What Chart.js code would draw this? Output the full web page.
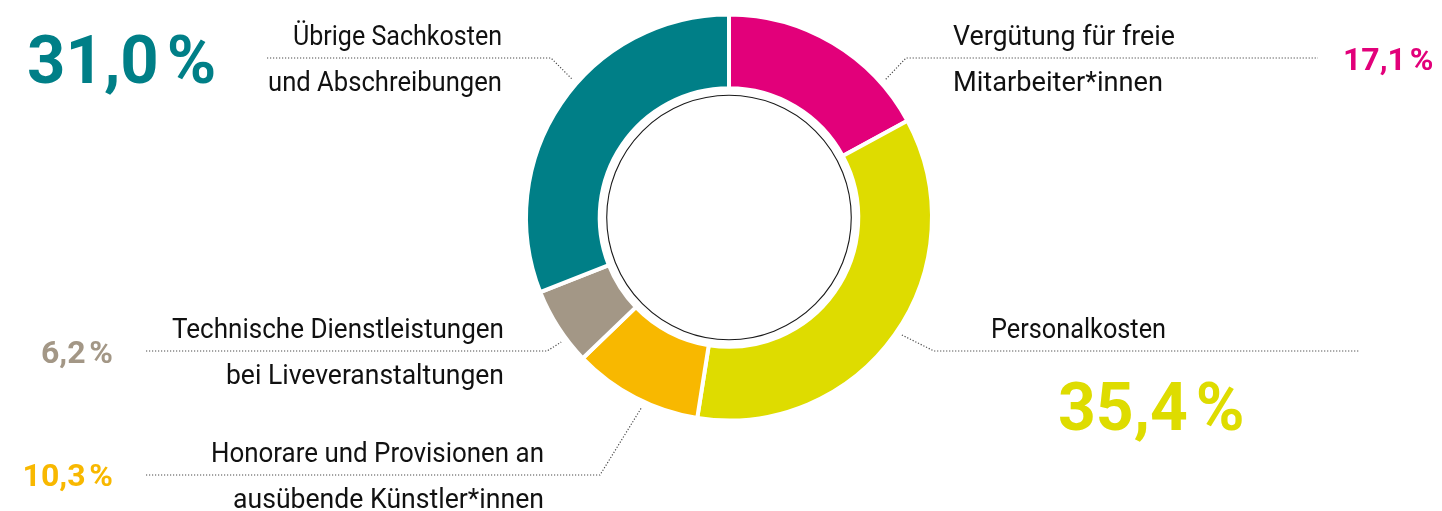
<!DOCTYPE html>
<html>
<head>
<meta charset="utf-8">
<script src="https://cdn.jsdelivr.net/npm/chart.js@4/dist/chart.umd.min.js"></script>
<style>
  html, body { margin: 0; padding: 0; background: #ffffff; }
  #wrap { width: 1442px; height: 511px; position: relative; }
</style>
</head>
<body>
<div id="wrap"><canvas id="c" width="1442" height="511"></canvas></div>
<script>
// ---- data ----
const categories = [
  'Vergütung für freie Mitarbeiter*innen',
  'Personalkosten',
  'Honorare und Provisionen an ausübende Künstler*innen',
  'Technische Dienstleistungen bei Liveveranstaltungen',
  'Übrige Sachkosten und Abschreibungen'
];
const values = [17.1, 35.4, 10.3, 6.2, 31.0];
const labelLines = [
  ['Vergütung für freie', 'Mitarbeiter*innen'],
  ['Personalkosten'],
  ['Honorare und Provisionen an', 'ausübende Künstler*innen'],
  ['Technische Dienstleistungen', 'bei Liveveranstaltungen'],
  ['Übrige Sachkosten', 'und Abschreibungen']
];
const colors = ['#E2007A', '#DEDC00', '#F8B800', '#A39786', '#007F87'];

// ---- annotation layout (positions / sizes only) ----
const LABEL_FONT = "Roboto, 'Liberation Sans', sans-serif";
const PCT_FONT = "Roboto, 'Liberation Sans', sans-serif";
const LABEL_SIZE = 28;
const layout = [
  { // magenta
    text: { align: 'left', x: 953, dot: 58, widths: [222, 210] },
    pct: { align: 'left', x: 1343, y: 70, size: 32 },
    leader: { angle: 48.6, pts: [[906, 58], [1318, 58]], arcFirst: true }
  },
  { // yellow
    text: { align: 'left', x: 991, dot: 351, widths: [175] },
    pct: { align: 'left', x: 1058, y: 430, size: 66 },
    leader: { angle: 124.2, pts: [[934, 351], [1360, 351]], arcFirst: true }
  },
  { // orange
    text: { align: 'right', x: 544, dot: 475, widths: [333, 311] },
    pct: { align: 'right', x: 113, y: 486, size: 32 },
    leader: { angle: 204.7, pts: [[146, 475], [600, 475]], arcFirst: false }
  },
  { // grey
    text: { align: 'right', x: 504, dot: 351, widths: [332, 278] },
    pct: { align: 'right', x: 113, y: 363, size: 32 },
    leader: { angle: 233.4, pts: [[146, 351], [547, 351]], arcFirst: false }
  },
  { // teal
    text: { align: 'right', x: 502, dot: 58, widths: [209, 234] },
    pct: { align: 'left', x: 27, y: 83, size: 67 },
    leader: { angle: -48.6, pts: [[267, 58], [551, 58]], arcFirst: false }
  }
];

function numText(v) {
  return v.toFixed(1).replace('.', ',');
}

function drawFitted(ctx, text, x, y, align, width) {
  const m = ctx.measureText(text).width;
  const sx = width / m;
  const left = align === 'right' ? x - width : x;
  ctx.save();
  ctx.translate(left, y);
  ctx.scale(sx, 1);
  ctx.textAlign = 'left';
  ctx.fillText(text, 0, 0);
  ctx.restore();
}

const annotations = {
  id: 'annotations',
  beforeDatasetsDraw(chart) {
    const arc = chart.getDatasetMeta(0).data[0];
    const ctx = chart.ctx;
    ctx.save();
    ctx.beginPath();
    ctx.arc(arc.x, arc.y, arc.innerRadius - 7, 0, Math.PI * 2);
    ctx.lineWidth = 1.1;
    ctx.strokeStyle = '#1a1a1a';
    ctx.stroke();
    ctx.restore();
  },
  afterDraw(chart) {
    const meta = chart.getDatasetMeta(0);
    const arc0 = meta.data[0];
    const cx = arc0.x, cy = arc0.y, R = arc0.outerRadius;
    const ctx = chart.ctx;
    ctx.save();
    ctx.textBaseline = 'alphabetic';
    layout.forEach((L, i) => {
      // leader
      const a = L.leader.angle * Math.PI / 180;
      const ap = [cx + (R + 6) * Math.sin(a), cy - (R + 6) * Math.cos(a)];
      const pts = L.leader.arcFirst ? [ap, ...L.leader.pts] : [...L.leader.pts, ap];
      ctx.beginPath();
      ctx.moveTo(pts[0][0], pts[0][1]);
      for (let k = 1; k < pts.length; k++) ctx.lineTo(pts[k][0], pts[k][1]);
      ctx.setLineDash([1.2, 1.8]);
      ctx.lineWidth = 1.2;
      ctx.strokeStyle = '#4a4a4a';
      ctx.stroke();
      ctx.setLineDash([]);

      // label text
      ctx.fillStyle = '#111111';
      ctx.font = LABEL_SIZE + 'px ' + LABEL_FONT;
      const lines = labelLines[i];
      drawFitted(ctx, lines[0], L.text.x, L.text.dot - 13, L.text.align, L.text.widths[0]);
      if (lines.length > 1) {
        drawFitted(ctx, lines[1], L.text.x, L.text.dot + 33, L.text.align, L.text.widths[1]);
      }

      // percentage
      ctx.fillStyle = colors[i];
      ctx.font = 'bold ' + L.pct.size + 'px ' + PCT_FONT;
      ctx.textAlign = 'left';
      const num = numText(values[i]);
      const nw = ctx.measureText(num).width;
      const pw = ctx.measureText('%').width;
      const gap = L.pct.size * 0.12;
      const total = nw + gap + pw;
      const left = L.pct.align === 'right' ? L.pct.x - total : L.pct.x;
      ctx.fillText(num, left, L.pct.y);
      ctx.fillText('%', left + nw + gap, L.pct.y);
    });
    ctx.restore();
  }
};

new Chart(document.getElementById('c'), {
  type: 'doughnut',
  data: {
    labels: categories,
    datasets: [{
      data: values,
      backgroundColor: colors,
      borderColor: '#ffffff',
      borderWidth: 4,
      borderJoinStyle: 'miter',
      hoverOffset: 0
    }]
  },
  options: {
    responsive: false,
    animation: false,
    rotation: 0,
    cutout: 128,
    radius: 203,
    layout: { padding: { left: 526, right: 510, top: 14.5, bottom: 90.5 } },
    plugins: {
      legend: { display: false },
      tooltip: { enabled: false }
    },
    events: []
  },
  plugins: [annotations]
});
</script>
</body>
</html>
